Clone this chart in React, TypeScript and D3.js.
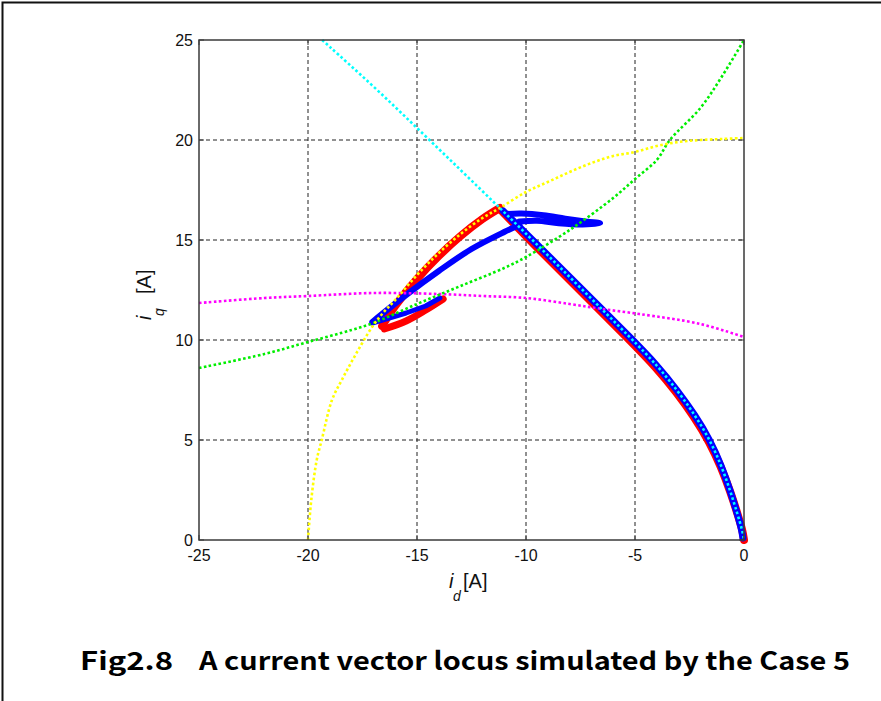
import React from "react";
import * as d3 from "d3";

type P = [number, number];

const xTicks = [-25, -20, -15, -10, -5, 0];
const yTicks = [0, 5, 10, 15, 20, 25];

// dotted reference curves
const cyanCurve: P[] = [
  [-19.35, 25], [-17, 22.7], [-15, 20.6], [-13, 18.5], [-11.2, 16.6], [-9.7, 15.0],
  [-7.4, 12.5], [-5.1, 10.0], [-4.0, 8.75], [-3.07, 7.5], [-2.25, 6.25], [-1.56, 5.0],
  [-1.05, 3.75], [-0.64, 2.5], [-0.3, 1.3], [-0.08, 0.5], [0, 0],
];
const yellowCurve: P[] = [
  [-20, 0], [-19.85, 2], [-19.6, 4], [-19.37, 5], [-18.9, 7], [-18.45, 8], [-17.8, 9.3],
  [-17.06, 10.65], [-16.56, 11.35], [-16, 12.0], [-15, 13.25], [-14, 14.35], [-13, 15.3],
  [-12, 16.1], [-11.2, 16.6], [-10, 17.4], [-9, 17.9], [-8, 18.4], [-7, 18.85], [-6, 19.2],
  [-5, 19.4], [-4, 19.7], [-3, 19.9], [-2, 20.0], [-1, 20.05], [0, 20.1],
];
const greenCurve: P[] = [
  [-25, 8.6], [-22, 9.3], [-20, 9.9], [-18, 10.5], [-17, 10.85], [-15, 11.8], [-13, 12.7],
  [-11, 13.6], [-10, 14.15], [-8, 15.5], [-6, 17.1], [-5, 18.05], [-4, 19.0], [-3.4, 20],
  [-2, 21.6], [-1, 23.2], [0, 25],
];
const magentaCurve: P[] = [
  [-25, 11.85], [-22, 12.1], [-20, 12.2], [-17, 12.35], [-14, 12.3], [-12, 12.2],
  [-10, 12.1], [-8, 11.8], [-6.5, 11.55], [-4.8, 11.3], [-2, 10.8], [0, 10.15],
];

// simulated loci (thick)
const redUpper: P[] = [
  [-16.6, 10.7], [-16, 11.7], [-15, 13.05], [-14, 14.2], [-13, 15.2], [-12, 16.05], [-11.2, 16.6],
];
const redDown: P[] = [
  [-11.2, 16.55], [-9.75, 14.9], [-7.45, 12.4], [-5.15, 9.9], [-4.05, 8.65], [-3.1, 7.4],
  [-2.28, 6.15], [-1.58, 4.9], [-1.05, 3.65], [-0.62, 2.4], [-0.28, 1.25], [-0.06, 0.45], [0, 0],
];
const redLower: P[] = [[-16.5, 10.55], [-15.5, 10.95], [-14.6, 11.5], [-13.8, 12.05]];

const blueDown: P[] = [
  [-11.05, 16.45], [-9.7, 15.0], [-7.4, 12.5], [-5.1, 10.0], [-4.0, 8.75], [-3.07, 7.5],
  [-2.25, 6.25], [-1.56, 5.0], [-1.05, 3.75], [-0.64, 2.5], [-0.3, 1.3], [-0.1, 0.5], [-0.05, 0.1],
];
const blueUpper: P[] = [
  [-17.05, 10.9], [-15.5, 12.25], [-14, 13.45], [-12.5, 14.55], [-11, 15.4], [-10.3, 15.75],
];
const blueBlob: P[] = [
  [-10.9, 16.3], [-10.2, 16.32], [-9.2, 16.24], [-8.2, 16.07], [-7.2, 15.92], [-6.6, 15.84],
  [-7.4, 15.78], [-8.5, 15.84], [-9.5, 15.96], [-10.3, 15.92],
];
const blueLower: P[] = [[-17.05, 10.85], [-15.5, 11.35], [-14.6, 11.7], [-13.95, 12.1]];

const W = 881;
const H = 701;

export default function App() {
  const x = d3.scaleLinear().domain([-25, 0]).range([199, 744]);
  const y = d3.scaleLinear().domain([0, 25]).range([540, 40]);
  const line = d3
    .line<P>()
    .x((d) => x(d[0]))
    .y((d) => y(d[1]))
    .curve(d3.curveCatmullRom.alpha(0.5));
  const smooth = d3
    .line<P>()
    .x((d) => x(d[0]))
    .y((d) => y(d[1]))
    .curve(d3.curveBasis);
  const straight = d3
    .line<P>()
    .x((d) => x(d[0]))
    .y((d) => y(d[1]));

  const font = "'Liberation Sans', Arial, sans-serif";
  const dotted = { fill: "none", strokeWidth: 2.6, strokeDasharray: "2.6 2.4" };
  const thick = { fill: "none", strokeLinejoin: "round" as const, strokeLinecap: "round" as const };

  return (
    <svg
      width={W}
      height={H}
      style={{ position: "absolute", left: 0, top: 0, background: "#fff" }}
      xmlns="http://www.w3.org/2000/svg"
    >
      <rect x={0} y={0} width={W} height={H} fill="#fff" />
      <path d={`M2.5,${H} V2.5 H${W}`} fill="none" stroke="#111" strokeWidth={2} />

      {/* grid */}
      {xTicks.slice(1, -1).map((t) => (
        <line key={"gx" + t} x1={x(t)} x2={x(t)} y1={y(0)} y2={y(25)} stroke="#222" strokeWidth={1} strokeDasharray="4 3" />
      ))}
      {yTicks.slice(1, -1).map((t) => (
        <line key={"gy" + t} x1={x(-25)} x2={x(0)} y1={y(t)} y2={y(t)} stroke="#222" strokeWidth={1} strokeDasharray="4 3" />
      ))}

      {/* thick loci */}
      <path d={line(redLower) || ""} {...thick} stroke="#ff0000" strokeWidth={7} />
      <path d={line(redUpper) || ""} {...thick} stroke="#ff0000" strokeWidth={8} />
      <path d={smooth(redDown) || ""} {...thick} stroke="#ff0000" strokeWidth={8} />
      <path d={smooth(blueDown) || ""} {...thick} stroke="#0000ff" strokeWidth={7} />
      <path d={line(blueUpper) || ""} {...thick} stroke="#0000ff" strokeWidth={6} />
      <path d={line(blueBlob) || ""} {...thick} stroke="#0000ff" strokeWidth={6} />
      <path d={straight(blueLower) || ""} {...thick} stroke="#0000ff" strokeWidth={5} />

      {/* dotted curves */}
      <path d={line(magentaCurve) || ""} {...dotted} stroke="#ff00ff" />
      <path d={line(greenCurve) || ""} {...dotted} stroke="#00ee00" />
      <path d={line(yellowCurve) || ""} {...dotted} stroke="#ffff00" />
      <path d={smooth(cyanCurve) || ""} {...dotted} stroke="#00ffff" />

      {/* box */}
      <rect x={x(-25)} y={y(25)} width={x(0) - x(-25)} height={y(0) - y(25)} fill="none" stroke="#3a3a3a" strokeWidth={1.5} />
      {xTicks.map((t) => (
        <g key={"tx" + t}>
          <line x1={x(t)} x2={x(t)} y1={y(0)} y2={y(0) - 5} stroke="#3a3a3a" />
          <line x1={x(t)} x2={x(t)} y1={y(25)} y2={y(25) + 5} stroke="#3a3a3a" />
          <text x={x(t)} y={561} textAnchor="middle" fontFamily={font} fontSize={16} fill="#111">
            {String(t)}
          </text>
        </g>
      ))}
      {yTicks.map((t) => (
        <g key={"ty" + t}>
          <line x1={x(-25)} x2={x(-25) + 5} y1={y(t)} y2={y(t)} stroke="#3a3a3a" />
          <line x1={x(0)} x2={x(0) - 5} y1={y(t)} y2={y(t)} stroke="#3a3a3a" />
          <text x={193} y={y(t)} dy="0.36em" textAnchor="end" fontFamily={font} fontSize={16} fill="#111">
            {String(t)}
          </text>
        </g>
      ))}

      {/* axis labels */}
      <text fontFamily={font} fontSize={20} fill="#111">
        <tspan x={449} y={588} fontStyle="italic">i</tspan>
        <tspan x={453} y={601} fontSize={14} fontStyle="italic">d</tspan>
        <tspan x={463} y={588}>[A]</tspan>
      </text>
      <text transform="translate(151,320) rotate(-90)" fontFamily={font} fontSize={20} fill="#111">
        <tspan x={0} y={0} fontStyle="italic">i</tspan>
        <tspan x={4} y={13} fontSize={14} fontStyle="italic">q</tspan>
        <tspan x={26} y={0}>[A]</tspan>
      </text>

      {/* caption */}
      <text x={80} y={670} fontFamily="'Noto Sans CJK JP', 'Liberation Sans', sans-serif" fontWeight="bold" fontSize={25} fill="#000" textLength={93} lengthAdjust="spacingAndGlyphs">
        Fig2.8
      </text>
      <text x={199} y={670} fontFamily="'Noto Sans CJK JP', 'Liberation Sans', sans-serif" fontWeight="bold" fontSize={25} fill="#000" textLength={651} lengthAdjust="spacingAndGlyphs">
        A current vector locus simulated by the Case 5
      </text>
    </svg>
  );
}
